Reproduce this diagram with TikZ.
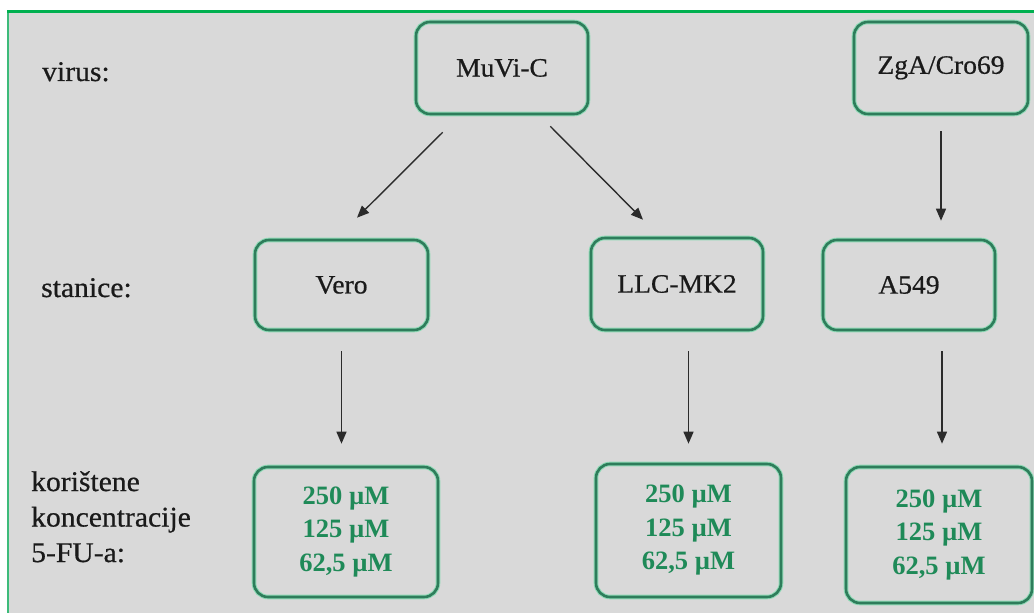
\documentclass[tikz,border=0pt]{standalone}
\usepackage{fontspec}
\setmainfont{Liberation Serif}
\newfontfamily\labelfont{Liberation Serif}[FakeBold=0.6, FakeStretch=1.04]
\usetikzlibrary{arrows.meta,calc}
\definecolor{panel}{HTML}{D9D9D9}
\definecolor{topline}{HTML}{00B050}
\definecolor{sideline}{HTML}{3DBB7A}
\definecolor{boxline}{HTML}{2E7D5B}
\definecolor{boxglow}{HTML}{8FD9B6}
\definecolor{conctext}{HTML}{1F8A58}
\definecolor{arrowcol}{HTML}{2B2B2B}
\definecolor{labeltext}{HTML}{1A1A1A}
\tikzset{
  stagebox/.style={rounded corners=14pt, draw=boxline, line width=2.6pt,
    preaction={draw=boxglow, line width=4.6pt}, text=labeltext,
    align=center, inner sep=0pt, font=\labelfont\fontsize{26.5}{30}\selectfont},
  concbox/.style={stagebox, text=conctext,
    font=\fontsize{26.5}{33.5}\selectfont\bfseries},
  rowlabel/.style={anchor=base west, align=left, inner sep=0pt, text=labeltext,
    font=\labelfont\fontsize{28.5}{35.5}\selectfont},
  arr/.style={draw=arrowcol, line width=1.4pt,
    -{Triangle[length=12pt,width=10pt]}}
}
\begin{document}
\begin{tikzpicture}[x=1pt,y=1pt]
  \useasboundingbox (0,0) rectangle (1034,613);
  \fill[white] (0,0) rectangle (1034,613);
  % panel with its green frame
  \fill[panel] (9,0) rectangle (1034,600);
  \fill[topline] (7,600) rectangle (1034,603);
  \fill[sideline] (7,0) rectangle (9,600);

  % row labels
  \node[rowlabel] (lvirus) at (42,532) {virus:};
  \node[rowlabel] (lcell) at (41,316) {stanice:};
  \node[rowlabel, anchor=north west] (lconc) at (31,142)
    {korištene\\koncentracije\\5-FU-a:};

  % viruses
  \node[stagebox, minimum width=172pt, minimum height=92pt] (muvi) at (502,545) {MuVi-C};
  \node[stagebox, minimum width=174pt, minimum height=92pt] (zga) at (941,545)
    {\raisebox{6pt}{ZgA/Cro69}};

  % cell lines
  \node[stagebox, minimum width=173pt, minimum height=90pt] (vero) at (341.5,328) {Vero};
  \node[stagebox, minimum width=172pt, minimum height=92pt] (llc) at (677,329) {LLC-MK2};
  \node[stagebox, minimum width=172pt, minimum height=90pt] (a549) at (909,328) {A549};

  % concentrations
  \node[concbox, minimum width=184pt, minimum height=130pt] (vconc) at (346,81)
    {250 µM\\125 µM\\62,5 µM};
  \node[concbox, minimum width=185pt, minimum height=133pt] (lconcb) at (688.5,82.5)
    {250 µM\\125 µM\\62,5 µM};
  \node[concbox, minimum width=186pt, minimum height=136pt] (aconc) at (939,78)
    {250 µM\\125 µM\\62,5 µM};

  % virus -> cell line
  \draw[arr] ([xshift=28pt,yshift=-17pt]muvi.south west) -- ([xshift=15.5pt,yshift=21pt]vero.north);
  \draw[arr] ([xshift=-39pt,yshift=-11pt]muvi.south east) -- ([xshift=-34pt,yshift=17pt]llc.north);
  \draw[arr, shorten <=16pt, shorten >=18pt] (zga.south) -- (zga.south |- a549.north);

  % cell line -> concentrations
  \draw[arr, shorten <=20pt, shorten >=22pt] (vero.south) -- (vero.south |- vconc.north);
  \draw[arr, shorten <=20pt, shorten >=19pt] (lconcb.north |- llc.south) -- (lconcb.north);
  \draw[arr, shorten <=20pt, shorten >=22pt] ([xshift=3pt]aconc.north |- a549.south) -- ([xshift=3pt]aconc.north);
\end{tikzpicture}
\end{document}
